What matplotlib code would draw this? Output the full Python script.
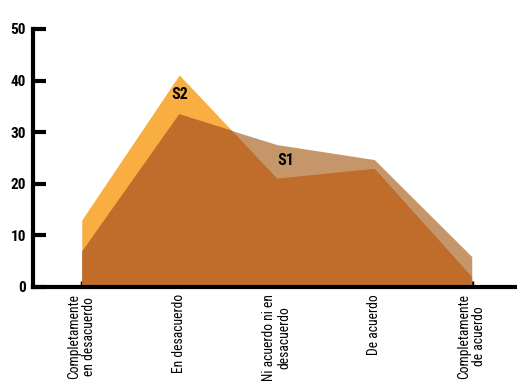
import matplotlib
matplotlib.use("Agg")
import matplotlib.pyplot as plt
import numpy as np

categories = ["Completamente\nen desacuerdo", "En desacuerdo", "Ni acuerdo ni en\ndesacuerdo",
              "De acuerdo", "Completamente\nde acuerdo"]
s1 = [6.8, 33.5, 27.6, 24.7, 5.9]
s2 = [13.0, 41.1, 21.1, 23.0, 2.0]
yticks = [0, 10, 20, 30, 40, 50]

FONT = ['Roboto Condensed', 'DejaVu Sans']
plt.rcParams['font.family'] = FONT

fig = plt.figure(figsize=(5.17, 3.81), dpi=100)
ax = fig.add_axes([33/517, 94/381, 487.5/517, 258/381])

x = np.arange(len(categories))
c_s2 = '#F9AE42'
c_s1 = '#C4966A'
c_ov = '#C06C2A'

ax.fill_between(x, 0, s2, color=c_s2, lw=0, zorder=1)
p1 = ax.fill_between(x, 0, s1, color=c_s1, lw=0, zorder=2)
ov = ax.fill_between(x, 0, s2, color=c_ov, lw=0, zorder=3)
ov.set_clip_path(p1.get_paths()[0], ax.transData)

ax.text(1, 37.4, "S2", fontsize=11.5, fontweight='bold', ha='center', va='center', zorder=5)
ax.text(2.09, 24.6, "S1", fontsize=11.5, fontweight='bold', ha='center', va='center', zorder=5)

ax.set_xlim(-0.5, 4.5)
ax.set_ylim(0, 50)
ax.set_yticks(yticks)
ax.set_yticklabels([str(v) for v in yticks], fontsize=11, fontweight='bold')
ax.set_xticks(x)
ax.set_xticklabels(categories, rotation=90, fontsize=9.8, va='top', ha='center',
                   linespacing=1.12)

for s in ['top', 'right']:
    ax.spines[s].set_visible(False)
for s in ['left', 'bottom']:
    ax.spines[s].set_linewidth(3)
    ax.spines[s].set_zorder(6)
ax.tick_params(axis='y', direction='in', length=9, width=3, pad=5)
ax.tick_params(axis='x', direction='in', length=4, width=2.5, pad=5)

fig.savefig("out.png", dpi=100)
